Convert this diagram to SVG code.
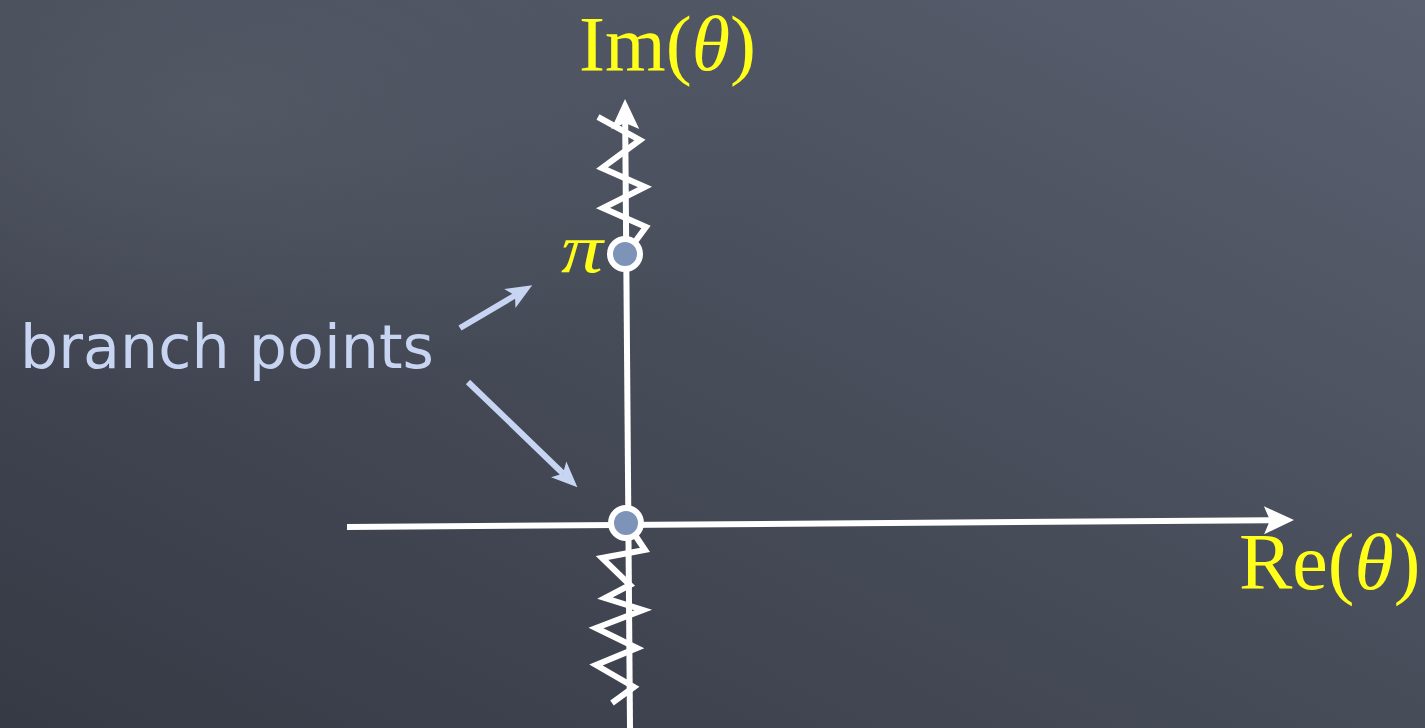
<svg xmlns="http://www.w3.org/2000/svg" width="1425" height="728" viewBox="0 0 1425 728">
<defs>
<linearGradient id="bg" x1="1" y1="0" x2="0" y2="1">
<stop offset="0" stop-color="#5a6070"/>
<stop offset="0.5" stop-color="#474c59"/>
<stop offset="1" stop-color="#363a45"/>
</linearGradient>
<radialGradient id="spot" cx="0.15" cy="0.15" r="0.4">
<stop offset="0" stop-color="#5a5f6c" stop-opacity="0.6"/>
<stop offset="1" stop-color="#5a5f6c" stop-opacity="0"/>
</radialGradient>
<marker id="axHead" markerUnits="userSpaceOnUse" markerWidth="36" markerHeight="36" refX="9" refY="18" orient="auto">
<path d="M33,18 L3,4 L9,18 L3,32 Z" fill="#ffffff"/>
</marker>
<marker id="bpHead" markerUnits="userSpaceOnUse" markerWidth="30" markerHeight="30" refX="8" refY="15" orient="auto">
<path d="M28,15 L2,4 L8,15 L2,26 Z" fill="#c8d5f2"/>
</marker>
</defs>
<style>
.axis{stroke:#ffffff;stroke-width:6;fill:none;stroke-linecap:butt}
.cut{stroke:#ffffff;stroke-width:6;fill:none;stroke-linejoin:miter;stroke-linecap:butt}
.bp{fill:#7e93b8;stroke:#ffffff;stroke-width:6}
.lbl{fill:#ffff1a;font-family:"Liberation Serif","Times New Roman",serif}
.note{fill:#c8d5f2;font-family:"DejaVu Sans","Liberation Sans",sans-serif;font-size:60px}
.ptr{stroke:#c8d5f2;stroke-width:6;fill:none}
</style>
<rect width="1425" height="728" fill="url(#bg)"/>
<rect width="1425" height="728" fill="url(#spot)"/>
<g id="connectors">
<line class="axis" x1="347" y1="527" x2="1270" y2="520.2" marker-end="url(#axHead)"/>
<line class="axis" x1="630" y1="728" x2="625.2" y2="123" marker-end="url(#axHead)"/>
<polyline class="cut" points="598,117 640,140 602,168 645,187 603,208 646,227 626,254"/>
<polyline class="cut" points="627,523 645,550 602,558 630,585 605,598 643,610 596,628 637,648 596,665 634,687 612,703"/>
<line class="ptr" x1="460" y1="328" x2="515" y2="295.5" marker-end="url(#bpHead)"/>
<line class="ptr" x1="468" y1="382" x2="563" y2="473.5" marker-end="url(#bpHead)"/>
</g>
<g id="branch-point-pi">
<circle class="bp" cx="625" cy="254" r="15"/>
</g>
<g id="branch-point-origin">
<circle class="bp" cx="626" cy="523" r="15"/>
</g>
<g id="label-im">
<text class="lbl" x="579" y="70" font-size="78">Im(<tspan font-style="italic">θ</tspan>)</text>
</g>
<g id="label-re">
<text class="lbl" x="1239" y="589" font-size="80">Re(<tspan font-style="italic">θ</tspan>)</text>
</g>
<g id="label-pi">
<text class="lbl" x="561" y="272" font-size="70" font-style="italic" textLength="42" lengthAdjust="spacingAndGlyphs">π</text>
</g>
<g id="label-branch-points">
<text class="note" x="20" y="368" textLength="414" lengthAdjust="spacingAndGlyphs">branch points</text>
</g>
</svg>
